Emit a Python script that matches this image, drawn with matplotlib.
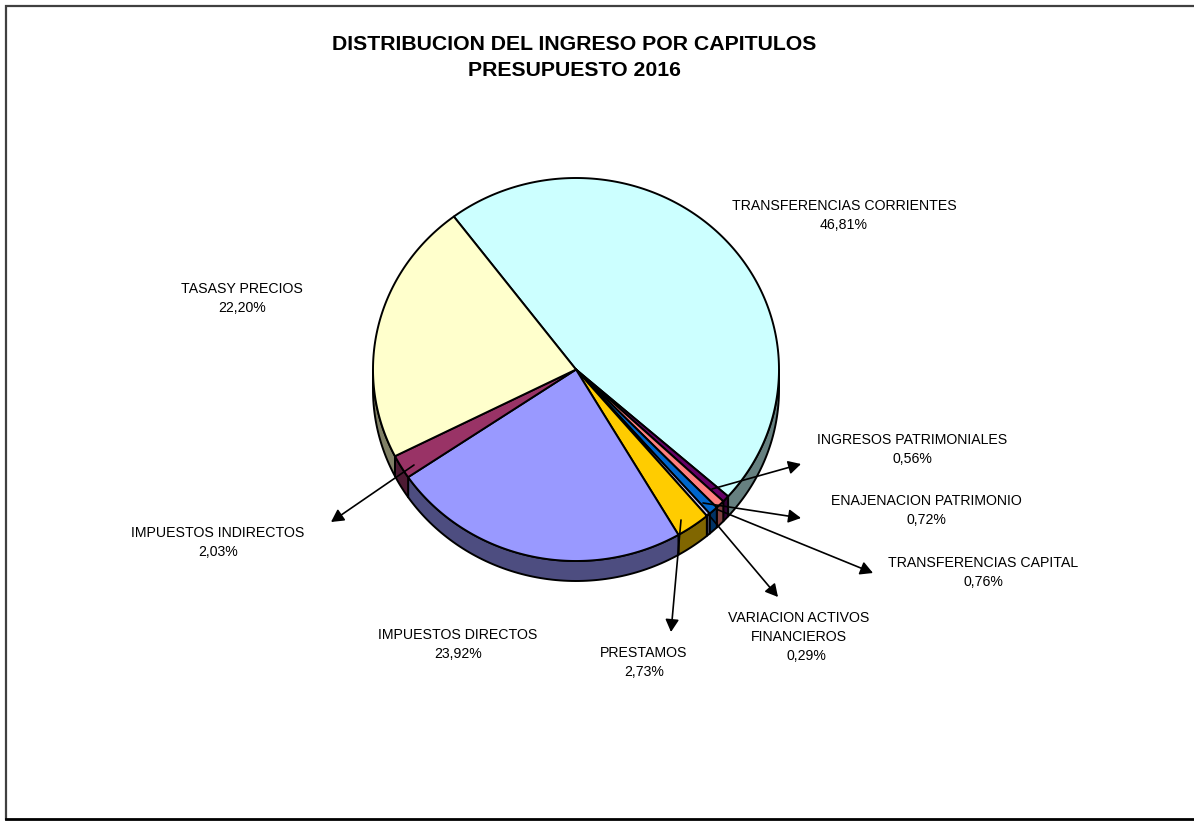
import numpy as np
import matplotlib
matplotlib.use("Agg")
import matplotlib.pyplot as plt
from matplotlib.patches import Polygon
from matplotlib.colors import to_rgb

plt.rcParams['font.family'] = ['Liberation Sans', 'DejaVu Sans']

# Budget shares, clockwise from the first slice
capitulos = ["TRANSFERENCIAS CORRIENTES", "INGRESOS PATRIMONIALES", "ENAJENACION PATRIMONIO",
             "TRANSFERENCIAS CAPITAL", "VARIACION ACTIVOS\nFINANCIEROS", "PRESTAMOS",
             "IMPUESTOS DIRECTOS", "IMPUESTOS INDIRECTOS", "TASASY PRECIOS"]
valores = [46.81, 0.56, 0.72, 0.76, 0.29, 2.73, 23.92, 2.03, 22.20]
colores = ["#CCFFFF", "#660066", "#FF8080", "#0066CC", "#CCCCFF",
           "#FFCC00", "#9999FF", "#993366", "#FFFFCC"]

# Pie geometry in pixels
CX, CY = 576, 369.5
RX, RY = 203, 191.5
DEPTH = 20
START = -37.0

# label centre for each slice (first line), arrow start and tip (None = no arrow)
label_pos = [(844, 206), (912, 440), (926, 501), (983, 563), (799, 618),
             (644, 653), (458, 635), (218, 533), (242, 289)]
arrows = [None, ((712, 489), (801, 464)), ((703, 503), (801, 518)),
          ((716, 509), (873, 573)), ((708, 514), (778, 597)),
          ((681, 520), (671, 632)), None, ((414, 465), (331, 522)), None]


def rim(t, dy=0):
    t = np.radians(t)
    return np.column_stack([CX + RX * np.sin(t), CY + dy - RY * np.cos(t)])


def oscuro(c):
    return tuple(v * 0.5 for v in to_rgb(c))


fig = plt.figure(figsize=(11.94, 8.21), dpi=100)
ax = fig.add_axes([0, 0, 1, 1])
ax.set_xlim(0, 1194)
ax.set_ylim(821, 0)
ax.axis("off")

# chart frame, open on the right
ax.plot([1194, 6, 6], [6, 6, 819], color="#404040", lw=1.6, solid_joinstyle="miter")
ax.plot([6, 1194], [819, 819], color="black", lw=2.0)

total = sum(valores)
bordes = START + np.cumsum([0] + valores) * 360.0 / total

# side wall: only the part of each slice that faces the viewer
for i, c in enumerate(colores):
    a, b = max(bordes[i], 90), min(bordes[i + 1], 270)
    if b <= a:
        continue
    t = np.linspace(a, b, 80)
    pts = np.vstack([rim(t), rim(t[::-1], DEPTH)])
    ax.add_patch(Polygon(pts, closed=True, fc=oscuro(c), ec="black", lw=1.4, joinstyle="round"))

# top face
for i, c in enumerate(colores):
    t = np.linspace(bordes[i], bordes[i + 1], 200)
    pts = np.vstack([[CX, CY], rim(t)])
    ax.add_patch(Polygon(pts, closed=True, fc=c, ec="black", lw=1.4, joinstyle="round"))

# leader arrows
for arr in arrows:
    if arr is None:
        continue
    ax.annotate("", xy=arr[1], xytext=arr[0],
                arrowprops=dict(arrowstyle="-|>,head_length=0.5,head_width=0.27", color="black",
                                lw=1.2, shrinkA=0, shrinkB=0, mutation_scale=15))

# labels: name, then the percentage with a decimal comma
LINE = 19
for nombre, v, (x, y) in zip(capitulos, valores, label_pos):
    lineas = nombre.split("\n")
    for k, s in enumerate(lineas):
        ax.text(x, y + k * LINE, s, ha="center", va="center", fontsize=10.2)
    pct = f"{v:.2f}".replace(".", ",") + "%"
    px = x + 7 if len(lineas) > 1 else x
    ax.text(px, y + len(lineas) * LINE, pct, ha="center", va="center", fontsize=10.2)

ax.text(574, 44, "DISTRIBUCION DEL INGRESO POR CAPITULOS", ha="center", va="center",
        fontsize=15.3, fontweight="bold")
ax.text(574, 70, "PRESUPUESTO 2016", ha="center", va="center", fontsize=15.3, fontweight="bold")

fig.savefig("out.png", dpi=100, facecolor="white")
